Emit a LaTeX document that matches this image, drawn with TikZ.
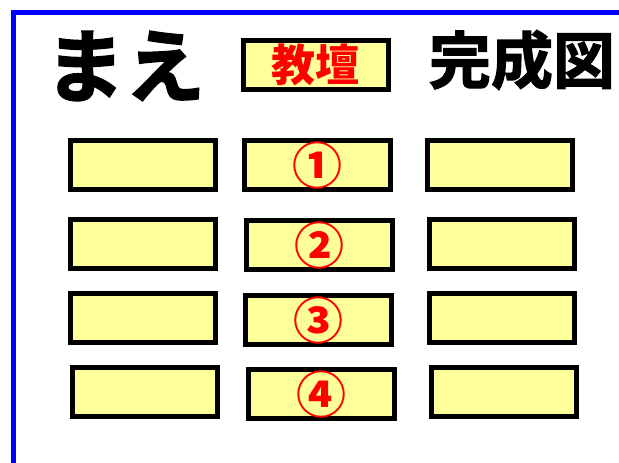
\documentclass[tikz,border=0pt]{standalone}
\usepackage{fontspec}
\newfontfamily\jpfont{Noto Sans CJK JP}
\newfontfamily\jpheavy[FakeBold=2]{Noto Sans CJK JP Bold}
\definecolor{seatyellow}{RGB}{255,255,153}
\tikzstyle{seat} = [draw, rectangle, fill=seatyellow, line width=5pt,
                    minimum width=145pt, minimum height=49pt, inner sep=0pt]
\tikzstyle{title} = [inner sep=0pt, font=\jpheavy\fontsize{62}{62}\selectfont]
\tikzstyle{number} = [seat, text=red, font=\jpfont\bfseries\fontsize{50}{50}\selectfont]

\begin{document}
\begin{tikzpicture}[x=1pt, y=-1pt]

% background
\fill[white] (0,0) rectangle (619,463);
\useasboundingbox (0,0) rectangle (619,463);
\draw[blue, line width=4.5pt] (13.5,463) |- (619,12.5);

% add nodes
\path (125,66) node [title, font=\jpheavy\fontsize{80}{80}\selectfont] (mae) {まえ};
\path (315.5,65) node [number, font=\jpfont\bfseries\fontsize{44}{44}\selectfont] (kyodan) {教壇};
\path (522,60) node [title] (kansei) {完成図};

\path (143,165) node [seat] (l1) {}
  -- ++(0,79) node [seat] (l2) {}
  -- ++(0,74) node [seat] (l3) {}
  -- ++(1.5,74) node [seat] (l4) {};

\path (317.5,165) node [number, minimum width=146pt] (m1) {①}
  -- ++(2,80) node [number, minimum width=146pt] (m2) {②}
  -- ++(-1,75) node [number, minimum width=146pt] (m3) {③}
  -- ++(3,74) node [number, minimum width=146pt] (m4) {④};

\path (499.5,165) node [seat] (r1) {}
  -- ++(2,79) node [seat] (r2) {}
  -- ++(0,74) node [seat] (r3) {}
  -- ++(2,74) node [seat] (r4) {};

\end{tikzpicture}
\end{document}
